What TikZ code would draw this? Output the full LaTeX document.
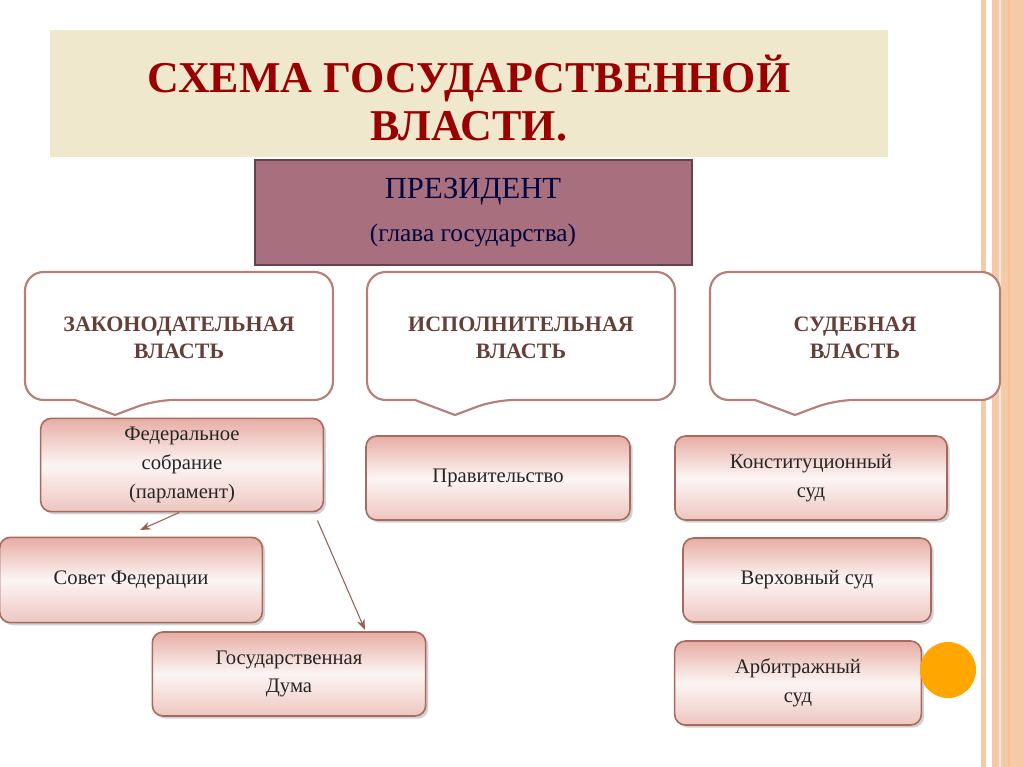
\documentclass[tikz,border=0pt]{standalone}
\usepackage{fontspec}
\setmainfont{Liberation Serif}
\usetikzlibrary{shadows,arrows.meta}
\definecolor{brd}{HTML}{A86A5E}
\definecolor{pk}{HTML}{E6ADA4}
\definecolor{peach}{HTML}{F5CBA7}
\definecolor{pres}{HTML}{A8707F}
\definecolor{band}{HTML}{EFE8CC}
\tikzset{
 box/.style={draw=brd,line width=1.2pt,rounded corners=8pt,top color=pk,bottom color=pk!70,middle color=pk!12,drop shadow={shadow xshift=2pt,shadow yshift=-2pt,opacity=.35},font=\fontsize{15.5}{21.5}\selectfont,align=center,text=black!85},
 call/.style={draw=brd!85,line width=1.6pt,fill=white,rounded corners=14pt},
 ctext/.style={font=\fontsize{16.5}{20}\selectfont\bfseries,text=brd!60!black,align=center},
 arr/.style={draw=brd!90!black,line width=0.8pt,-{Stealth[length=8pt,width=6pt]}}
}
\begin{document}
\begin{tikzpicture}[x=0.75pt,y=-0.75pt]
\useasboundingbox (0,0) rectangle (1024,767);
\fill[white] (0,0) rectangle (1024,767);
% right stripes
\fill[peach] (981,0) rectangle (986,767);
\fill[peach] (992,0) rectangle (1024,767);
\fill[peach!140!orange] (999,0) rectangle (1001,767);
\fill[peach!85!orange] (1008,0) rectangle (1010,767);
% title
\fill[band] (50,30) rectangle (888,157);
\node (t1) at (469,78) {\fontsize{33}{38}\selectfont\bfseries\color{red!60!black}СХЕМА ГОСУДАРСТВЕННОЙ};
\node (t2) at (469,126) {\fontsize{33}{38}\selectfont\bfseries\color{red!60!black}ВЛАСТИ.};
% president
\draw[draw=pres!60!black,line width=2pt,fill=pres] (255,160) rectangle (692,265);
\node[text={blue!25!black},font=\fontsize{23}{26}\selectfont] (p1) at (473,192) {ПРЕЗИДЕНТ};
\node[text={blue!25!black},font=\fontsize{19}{22}\selectfont] (p2) at (473,235) {(глава государства)};
% callouts
\foreach \a/\b/\t/\bl/\br in {25/333/115/75/155, 367/675/455/415/495, 710/1000/795/755/835}{
 \draw[call] (\bl,400) -- (\a,400) -- (\a,272) -- (\b,272) -- (\b,400) -- (\br,400) [sharp corners] -- (\t,415) -- cycle;
}
\node[ctext] (c1) at (179,338) {ЗАКОНОДАТЕЛЬНАЯ\\ВЛАСТЬ};
\node[ctext] (c2) at (521,338) {ИСПОЛНИТЕЛЬНАЯ\\ВЛАСТЬ};
\node[ctext] (c3) at (855,338) {СУДЕБНАЯ\\ВЛАСТЬ};
% boxes
\node[box,minimum width=212pt,minimum height=70pt] (fs) at (182,465) {Федеральное\\собрание\\(парламент)};
\node[box,minimum width=198pt,minimum height=63pt] (pr) at (498,478) {Правительство};
\node[box,minimum width=204pt,minimum height=63pt] (ks) at (811,478) {Конституционный\\суд};
\node[box,minimum width=186pt,minimum height=63pt] (vs) at (807,580) {Верховный суд};
\node[box,minimum width=185pt,minimum height=63pt] (as) at (798,683) {Арбитражный\\суд};
\node[box,minimum width=197pt,minimum height=64pt] (sf) at (131,580) {Совет Федерации};
\node[box,minimum width=205pt,minimum height=63pt] (gd) at (289,674) {Государственная\\Дума};
\draw[arr] ([xshift=-2pt]fs.south) -- (140,530);
\draw[arr] ([xshift=-5pt]fs.south east) ++(0,8) -- (365,630);
% orange circle
\fill[orange!70!yellow] (948,670) circle (28);
\end{tikzpicture}
\end{document}
